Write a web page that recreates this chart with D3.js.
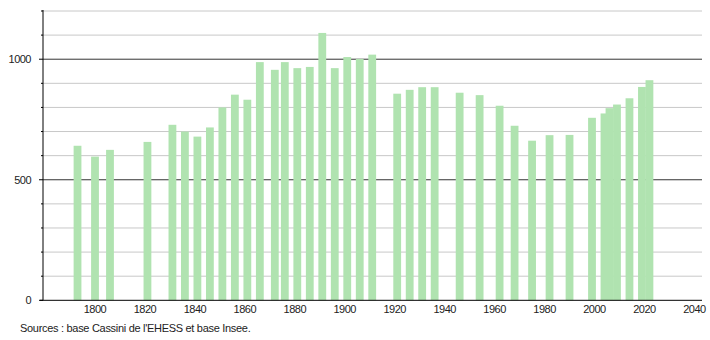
<!DOCTYPE html>
<html>
<head>
<meta charset="utf-8">
<script src="https://cdn.jsdelivr.net/npm/d3@7"></script>
<style>
  body { margin: 0; background: #fff; }
  svg { font-family: "Liberation Sans", Arial, sans-serif; }
</style>
</head>
<body>
<div id="canvas"></div>
<script>
// census years and population
const years = [1793, 1800, 1806, 1821, 1831, 1836, 1841, 1846, 1851, 1856,
  1861, 1866, 1872, 1876, 1881, 1886, 1891, 1896, 1901, 1906, 1911,
  1921, 1926, 1931, 1936, 1946, 1954, 1962, 1968, 1975, 1982, 1990,
  1999, 2004, 2006, 2009, 2014, 2019, 2022];
const population = [641, 596, 624, 657, 728, 700, 679, 717, 800, 853,
  832, 988, 956, 988, 963, 968, 1109, 963, 1009, 1001, 1019,
  857, 873, 884, 884, 861, 851, 807, 724, 662, 685, 686,
  757, 775, 797, 812, 838, 885, 913];
const xTicks = [1800, 1820, 1840, 1860, 1880, 1900, 1920, 1940, 1960, 1980, 2000, 2020, 2040];
const yMajor = [0, 500, 1000];
const yMinor = [100, 200, 300, 400, 600, 700, 800, 900, 1100, 1200];
const source = "Sources : base Cassini de l'EHESS et base Insee.";

const width = 710, height = 340;
const mLeft = 43, mRight = 702, mBottom = 300.3, mTop = 11;

const svg = d3.select("#canvas").append("svg")
  .attr("width", width)
  .attr("height", height);

const x = d3.scaleLinear().domain([1800, 2040]).range([95, 694.4]);
const y = d3.scaleLinear().domain([0, 1200]).range([mBottom, mTop]);

// grid lines
svg.append("g").selectAll("line").data(yMinor).enter().append("line")
  .attr("x1", mLeft).attr("x2", mRight)
  .attr("y1", d => y(d)).attr("y2", d => y(d))
  .attr("stroke", "#c8c8c8").attr("stroke-width", 1);

svg.append("g").selectAll("line").data(yMajor.filter(d => d > 0)).enter().append("line")
  .attr("x1", mLeft).attr("x2", mRight)
  .attr("y1", d => y(d)).attr("y2", d => y(d))
  .attr("stroke", "#333").attr("stroke-width", 1);

// bars
const barW = 7.8;
svg.append("g").selectAll("rect").data(years).enter().append("rect")
  .attr("x", d => x(d) - barW / 2)
  .attr("y", (d, i) => y(population[i]))
  .attr("width", barW)
  .attr("height", (d, i) => mBottom - y(population[i]))
  .attr("fill", "#b0e3b0");

// y axis
const yAxis = svg.append("g").attr("transform", `translate(${mLeft},0)`);
yAxis.append("line").attr("x1", 0).attr("x2", 0).attr("y1", mTop - 1).attr("y2", mBottom)
  .attr("stroke", "#000");
yAxis.selectAll(".minor").data(yMinor).enter().append("line")
  .attr("x1", -2).attr("x2", 0)
  .attr("y1", d => y(d)).attr("y2", d => y(d))
  .attr("stroke", "#000");
yAxis.selectAll(".major").data(yMajor).enter().append("line")
  .attr("x1", -4).attr("x2", 0)
  .attr("y1", d => y(d)).attr("y2", d => y(d))
  .attr("stroke", "#000");
yAxis.selectAll("text").data(yMajor).enter().append("text")
  .attr("x", -12).attr("y", d => y(d) + 4)
  .attr("text-anchor", "end")
  .attr("font-size", 11).attr("letter-spacing", -0.5)
  .attr("fill", "#222")
  .text(d => d);

// x axis
svg.append("line").attr("x1", mLeft - 3).attr("x2", mRight)
  .attr("y1", mBottom).attr("y2", mBottom).attr("stroke", "#000");
svg.append("g").selectAll("text").data(xTicks).enter().append("text")
  .attr("x", d => x(d)).attr("y", 313)
  .attr("text-anchor", "middle")
  .attr("font-size", 11).attr("letter-spacing", -0.5)
  .attr("fill", "#222")
  .text(d => d);

svg.append("text")
  .attr("x", 20).attr("y", 332)
  .attr("font-size", 11).attr("letter-spacing", -0.3)
  .attr("fill", "#222")
  .text(source);
</script>
</body>
</html>
